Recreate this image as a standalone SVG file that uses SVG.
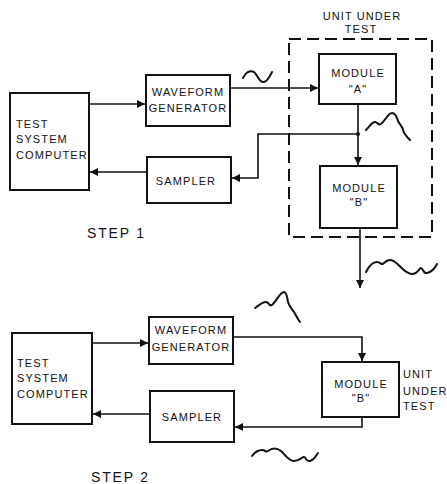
<svg xmlns="http://www.w3.org/2000/svg" width="447" height="484" viewBox="0 0 447 484">
<style>
.box{fill:#fff;stroke:#111;stroke-width:2}
.ln{fill:none;stroke:#111;stroke-width:1.6}
.sq{fill:none;stroke:#111;stroke-width:2;stroke-linecap:round;stroke-linejoin:round}
.dash{fill:none;stroke:#111;stroke-width:2;stroke-dasharray:12 6}
text{font-family:"Liberation Sans",Arial,sans-serif;fill:#111}
.t{font-size:11px;letter-spacing:1.1px}
.s{font-size:14px;letter-spacing:1.8px}
</style>
<defs>
<marker id="ah" viewBox="0 0 10 10" refX="10" refY="5" markerWidth="8" markerHeight="8" markerUnits="userSpaceOnUse" orient="auto">
<path d="M0,0 L10,5 L0,10 z" fill="#111"/>
</marker>
</defs>
<rect width="447" height="484" fill="#fff"/>
<g id="connectors">
<line class="ln" x1="89" y1="104" x2="145" y2="104" marker-end="url(#ah)"/>
<line class="ln" x1="147" y1="172" x2="90" y2="172" marker-end="url(#ah)"/>
<line class="ln" x1="230" y1="88" x2="318" y2="88" marker-end="url(#ah)"/>
<line class="ln" x1="358" y1="104" x2="358" y2="165" marker-end="url(#ah)"/>
<polyline class="ln" points="358,134 258,134 258,178 232,178" marker-end="url(#ah)"/>
<circle cx="358" cy="134" r="2" fill="#111"/>
<line class="ln" x1="360" y1="228" x2="360" y2="288" marker-end="url(#ah)"/>
<line class="ln" x1="92" y1="343" x2="148" y2="343" marker-end="url(#ah)"/>
<line class="ln" x1="150" y1="414" x2="93" y2="414" marker-end="url(#ah)"/>
<polyline class="ln" points="233,337 362,337 362,361" marker-end="url(#ah)"/>
<polyline class="ln" points="362,417 362,427 235,427" marker-end="url(#ah)"/>
</g>
<g id="waveforms">
<path class="sq" d="M243,78 C246,72 250,70 254,72 C258,75 259,83 264,82 C268,81 270,76 272,72"/>
<path class="sq" d="M366,130 C369,127 372,122 375,122 C378,122 378,126 381,124 C385,121 388,113 392,113 C396,113 397,118 398,121 C400,125 403,127 403,130 C404,134 406,136 410,140"/>
<path class="sq" d="M366,272 C369,266 373,262 377,262 C381,262 381,266 384,263 C387,260 391,259 395,262 C400,265 405,274 412,274 C418,274 419,268 421,268 C423,268 423,274 427,273 C432,272 435,268 437,264"/>
<path class="sq" d="M255,308 C259,305 262,302 266,302 C269,302 269,307 272,305 C276,302 280,292 284,292 C287,292 287,298 288,302 C289,306 292,309 294,312 C296,315 297,318 300,322"/>
<path class="sq" d="M252,456 C255,452 258,450 262,450 C266,450 265,453 268,451 C272,448 277,448 281,451 C285,454 288,461 294,461 C299,461 302,457 304,457 C306,457 306,462 310,461 C314,460 316,456 318,453"/>
</g>
<g id="uut1-frame">
<rect class="dash" x="289" y="39" width="143" height="198"/>
<text class="t" x="362" y="20" text-anchor="middle">UNIT UNDER</text>
<text class="t" x="361" y="33" text-anchor="middle">TEST</text>
</g>
<g id="computer1">
<rect class="box" x="10" y="93" width="79" height="97"/>
<text class="t" x="16" y="128">TEST</text>
<text class="t" x="16" y="143">SYSTEM</text>
<text class="t" x="16" y="159">COMPUTER</text>
</g>
<g id="wavegen1">
<rect class="box" x="146" y="75" width="84" height="51"/>
<text class="t" x="188" y="96" text-anchor="middle">WAVEFORM</text>
<text class="t" x="188" y="112" text-anchor="middle">GENERATOR</text>
</g>
<g id="sampler1">
<rect class="box" x="147" y="157" width="84" height="46"/>
<text class="t" x="186" y="185" text-anchor="middle">SAMPLER</text>
</g>
<g id="moduleA">
<rect class="box" x="319" y="54" width="77" height="50"/>
<text class="t" x="358" y="77" text-anchor="middle">MODULE</text>
<text class="t" x="358" y="93" text-anchor="middle">"A"</text>
</g>
<g id="moduleB1">
<rect class="box" x="320" y="166" width="77" height="62"/>
<text class="t" x="359" y="192" text-anchor="middle">MODULE</text>
<text class="t" x="359" y="206" text-anchor="middle">"B"</text>
</g>
<g id="step1">
<text class="s" x="87" y="238">STEP 1</text>
</g>
<g id="computer2">
<rect class="box" x="12" y="333" width="80" height="91"/>
<text class="t" x="17" y="367">TEST</text>
<text class="t" x="17" y="382">SYSTEM</text>
<text class="t" x="17" y="398">COMPUTER</text>
</g>
<g id="wavegen2">
<rect class="box" x="149" y="317" width="84" height="47"/>
<text class="t" x="191" y="334" text-anchor="middle">WAVEFORM</text>
<text class="t" x="191" y="351" text-anchor="middle">GENERATOR</text>
</g>
<g id="sampler2">
<rect class="box" x="150" y="391" width="84" height="51"/>
<text class="t" x="192" y="421" text-anchor="middle">SAMPLER</text>
</g>
<g id="moduleB2">
<rect class="box" x="322" y="362" width="77" height="55"/>
<text class="t" x="361" y="388" text-anchor="middle">MODULE</text>
<text class="t" x="361" y="402" text-anchor="middle">"B"</text>
<text class="t" x="403" y="378">UNIT</text>
<text class="t" x="403" y="395">UNDER</text>
<text class="t" x="403" y="410">TEST</text>
</g>
<g id="step2">
<text class="s" x="91" y="482">STEP 2</text>
</g>
</svg>
